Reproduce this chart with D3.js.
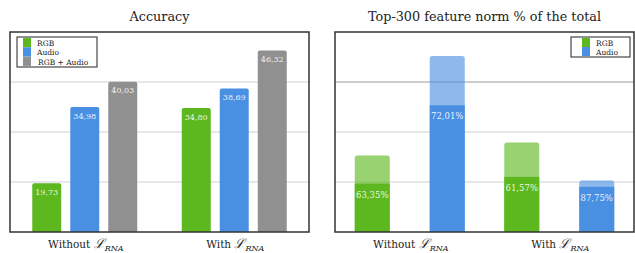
<!DOCTYPE html>
<html><head><meta charset="utf-8">
<script src="https://cdn.jsdelivr.net/npm/d3@7"></script>
<style>body{margin:0;background:#fff}svg{display:block}</style>
</head><body><svg id="c" width="635" height="253" font-family="'DejaVu Serif', 'Liberation Serif', 'Times New Roman', serif"></svg>
<script>
const groups = ["Without", "With"];
const accSeries = ["RGB", "Audio", "RGB + Audio"];
const accValues = [[19.73, 34.98, 40.03], [34.80, 38.69, 46.32]];
const accLabels = [["19,73", "34,98", "40,03"], ["34,80", "38,69", "46,32"]];
const accTicks = [20, 30, 40];
const normSeries = ["RGB", "Audio"];
const normTotals = [[1.53, 3.52], [1.79, 1.03]];
const normPct = [[63.35, 72.01], [61.57, 87.75]];
const normLabels = [["63,35%", "72,01%"], ["61,57%", "87,75%"]];
const normTicks = [1, 2, 3];

const colors = {"RGB": "#5cb81e", "Audio": "#4a90e2", "RGB + Audio": "#909090"};
const svg = d3.select("#c");

function topRounded(x, y, w, h, r) {
  r = Math.min(r, h);
  return `M${x},${y + h}V${y + r}Q${x},${y} ${x + r},${y}H${x + w - r}Q${x + w},${y} ${x + w},${y + r}V${y + h}Z`;
}

function xLabel(g, cx, name) {
  const t = g.append("text").attr("x", cx + 1).attr("y", 248).attr("text-anchor", "middle")
    .attr("font-size", 10.5).attr("fill", "#222");
  t.append("tspan").text(name + " ");
  t.append("tspan").attr("font-style", "italic").attr("font-size", 13).text("ℒ");
  t.append("tspan").attr("font-style", "italic").attr("font-size", 8).attr("dy", 3).text("RNA");
}

function panel(left, right, title) {
  const g = svg.append("g");
  g.append("text").attr("x", (left + right) / 2).attr("y", 21).attr("text-anchor", "middle")
    .attr("font-size", 12.8).attr("fill", "#222").text(title);
  return g;
}

// ---------- Left panel ----------
{
  const L = 10, R = 309, T = 32, B = 232;
  const g = panel(L, R, "Accuracy");
  const y = d3.scaleLinear().domain([10, 50]).range([B, T]);
  const x0 = d3.scaleBand().domain(groups).range([L, R]);
  const x1 = d3.scaleBand().domain(accSeries).range([-52.5, 52.5]).paddingInner(0.237);
  g.append("g").selectAll("line").data(accTicks).join("line")
    .attr("x1", L).attr("x2", R).attr("y1", d => y(d)).attr("y2", d => y(d))
    .attr("stroke", "#cfcfcf").attr("stroke-width", 1.2);
  groups.forEach((grp, gi) => {
    const cx = x0(grp) + x0.bandwidth() / 2;
    accSeries.forEach((s, si) => {
      const v = accValues[gi][si];
      const bx = cx + x1(s), bw = x1.bandwidth();
      g.append("path").attr("d", topRounded(bx, y(v), bw, B - y(v), 2)).attr("fill", colors[s]);
      g.append("text").attr("x", bx + bw / 2).attr("y", y(v) + 11.5).attr("text-anchor", "middle")
        .attr("font-size", 8).attr("fill", "#fff").attr("fill-opacity", 0.9).text(accLabels[gi][si]);
    });
    xLabel(g, cx, grp);
  });
  g.append("rect").attr("x", L).attr("y", T).attr("width", R - L).attr("height", B - T)
    .attr("fill", "none").attr("stroke", "#333").attr("stroke-width", 1.5);
  const lg = g.append("g");
  lg.append("rect").attr("x", 17).attr("y", 37).attr("width", 80).attr("height", 30)
    .attr("fill", "#fff").attr("stroke", "#222").attr("stroke-width", 1);
  accSeries.forEach((s, i) => {
    lg.append("rect").attr("x", 23).attr("y", 38 + i * 9.3).attr("width", 8).attr("height", 9.3).attr("fill", colors[s]);
    lg.append("text").attr("x", i === 2 ? 38 : 37).attr("y", 45.5 + i * 9.5).attr("font-size", 7.5)
      .attr("fill", "#222").text(s);
  });
}

// ---------- Right panel ----------
{
  const L = 335, R = 634, T = 32, B = 232;
  const g = panel(L, R, "Top-300 feature norm % of the total");
  const y = d3.scaleLinear().domain([0, 4]).range([B, T]);
  const x0 = d3.scaleBand().domain(groups).range([L, R]);
  const x1 = d3.scaleBand().domain(normSeries).range([-55, 55]).paddingInner(0.533);
  g.append("g").selectAll("line").data(normTicks).join("line")
    .attr("x1", L).attr("x2", R).attr("y1", d => y(d)).attr("y2", d => y(d))
    .attr("stroke", d => d === 3 ? "#9a9a9a" : "#cfcfcf").attr("stroke-width", 1.2);
  groups.forEach((grp, gi) => {
    const cx = x0(grp) + x0.bandwidth() / 2;
    normSeries.forEach((s, si) => {
      const tot = normTotals[gi][si];
      const part = tot * normPct[gi][si] / 100;
      const bx = cx + x1(s), bw = x1.bandwidth();
      g.append("path").attr("d", topRounded(bx, y(tot), bw, B - y(tot), 2.5))
        .attr("fill", colors[s]).attr("fill-opacity", 0.63);
      g.append("rect").attr("x", bx).attr("y", y(part)).attr("width", bw).attr("height", B - y(part))
        .attr("fill", colors[s]);
      g.append("text").attr("x", bx + bw / 2).attr("y", y(part) + 14).attr("text-anchor", "middle")
        .attr("font-size", 8.5).attr("fill", "#fff").attr("fill-opacity", 0.9).text(normLabels[gi][si]);
    });
    xLabel(g, cx, grp);
  });
  g.append("rect").attr("x", L).attr("y", T).attr("width", R - L).attr("height", B - T)
    .attr("fill", "none").attr("stroke", "#333").attr("stroke-width", 1.5);
  const lg = g.append("g");
  lg.append("rect").attr("x", 571).attr("y", 37).attr("width", 59).attr("height", 20)
    .attr("fill", "#fff").attr("stroke", "#222").attr("stroke-width", 1);
  normSeries.forEach((s, i) => {
    lg.append("rect").attr("x", 582).attr("y", 38 + i * 9).attr("width", 8).attr("height", 9).attr("fill", colors[s]);
    lg.append("text").attr("x", 596).attr("y", 45.5 + i * 9).attr("font-size", 7.5)
      .attr("fill", "#222").text(s);
  });
}
</script></body></html>
